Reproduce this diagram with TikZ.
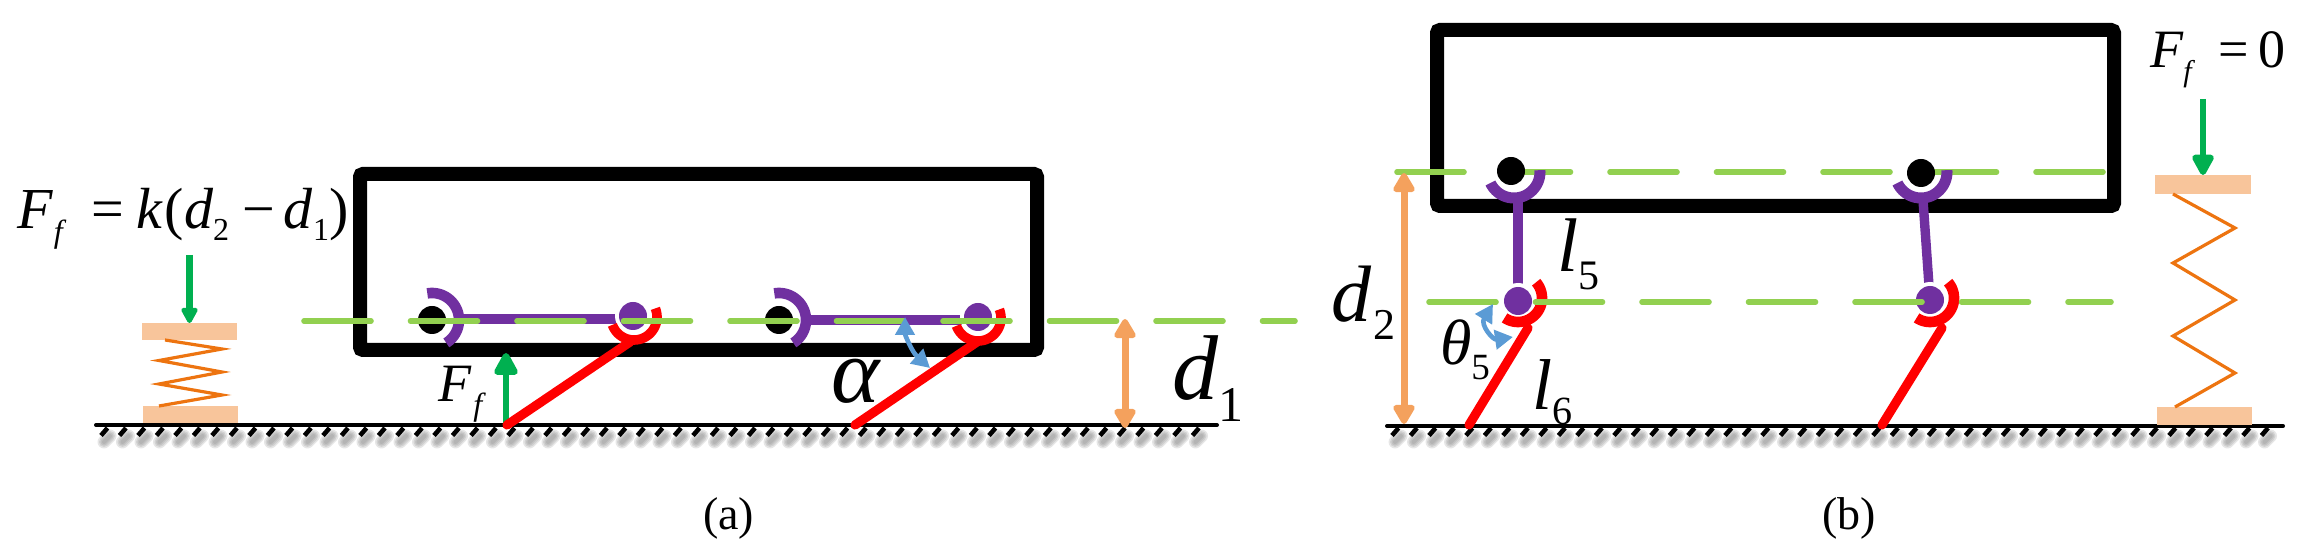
\documentclass[tikz,border=0pt]{standalone}
\usepackage{fontspec}
\setmainfont{Liberation Serif}
\usetikzlibrary{arrows.meta}
\definecolor{cgreen}{HTML}{00B050}
\definecolor{cdash}{HTML}{92D050}
\definecolor{cpurple}{HTML}{7030A0}
\definecolor{cred}{HTML}{FF0000}
\definecolor{cplate}{HTML}{F8C59B}
\definecolor{cspring}{HTML}{ED7410}
\definecolor{corange}{HTML}{F4A15D}
\definecolor{cblue}{HTML}{5B9BD5}
\newcommand\fs[1]{\fontsize{#1}{#1}\selectfont}
\newcommand\lowsub[3]{\raisebox{#2}{\fs{#1}#3}}
\newcommand\jarc[7]{\draw[line width=#7,color=#6,line cap=butt] plot[domain=#4:#5,samples=40,smooth] ({#1+#3*cos(\x)},{#2-#3*sin(\x)});}
\newcommand\halo[3]{\fill[white] (#1,#2) circle[radius=#3];}
\newcommand\jdot[4][black]{\fill[#1] (#2,#3) circle[radius=#4];}
\newcommand\groundline[3]{%
  \foreach \tx in {#1,#2,...,#3} {
    \foreach \w in {6.5,5,3.5,2} {
      \draw[line width=\w pt,gray,opacity=.2,line cap=round] (\tx+3,442) -- (\tx+9,436);
    }
  }
  \foreach \tx in {#1,#2,...,#3} {
    \draw[line width=2.3pt,black] (\tx,435.5) -- (\tx+6.5,428);
  }
}
\tikzset{
  x=0.5pt,y=-0.5pt,
  body/.style={draw=black,line width=7pt,rounded corners=1.5pt},
  refline/.style={draw=cdash,line width=2.8pt,line cap=round,dash pattern=on 33.5pt off 19.75pt},
  ground/.style={draw=black,line width=2pt,line cap=round},
  rodp/.style={draw=cpurple,line width=4.7pt},
  legr/.style={draw=cred,line width=4.6pt,line cap=round},
  plate/.style={fill=cplate},
  coil/.style={draw=cspring,line width=1.6pt,line join=miter},
  forcearrow/.style={draw=cgreen,line width=3.4pt,-{Triangle[width=#1,length=#1,round]}},
  forcearrow/.default=9pt,
  dimarrow/.style={draw=corange,line width=3.5pt,{Triangle[width=12pt,length=11pt,round]}-{Triangle[width=12pt,length=11pt,round]}},
  anglearrow/.style={draw=cblue,line width=2.3pt,{Triangle[width=9.5pt,length=9pt]}-{Triangle[width=9.5pt,length=9pt]}},
  lab/.style={anchor=base west,inner sep=0pt,outer sep=0pt,text=black}
}
\begin{document}
\begin{tikzpicture}
\useasboundingbox (0,0) rectangle (2304,555);
% grounds
\groundline{101}{119.5}{1195}
\groundline{1392}{1410.5}{2267}
\draw[ground] (96,425) -- (1217,425);
\draw[ground] (1387,426) -- (2283,426);
% ---------- (a)
\draw[body] (360,174) rectangle (1037,350);
\fill[plate] (142,323) rectangle (237,340);
\fill[plate] (143,406) rectangle (238,423);
\draw[coil] (165,340) -- (222,349) -- (159,360.5) -- (222,372) -- (159,384) -- (222,395) -- (159,406);
\draw[forcearrow] (189.5,255) -- (189.5,323);
\draw[forcearrow=13pt] (506,425) -- (506,353);
% left pair of legs
\halo{432}{320}{20}
\jdot{432}{320}{14}
\jarc{432}{320}{27}{-58}{100}{cpurple}{5.3pt}
\draw[rodp] (459,319) -- (633,319);
\halo{633}{316}{18}
\jdot[cpurple]{633}{316}{14}
\draw[legr] (507,425) -- (630,342);
\jarc{634}{317}{23}{200}{382}{cred}{4.8pt}
\halo{779}{320}{20}
\jdot{779}{320}{14}
\jarc{779}{320}{27}{-58}{100}{cpurple}{5.3pt}
\draw[rodp] (806,320) -- (978,320);
\halo{978}{317}{18}
\jdot[cpurple]{978}{317}{14}
\draw[legr] (855,425) -- (977,342);
\jarc{978}{318}{23}{200}{382}{cred}{4.8pt}
\draw[refline] (304,321) -- (1295,321);
% ---------- (b)
\draw[body] (1437,30) rectangle (2114,206);
\fill[plate] (2155,175) rectangle (2251,194);
\fill[plate] (2157,407) rectangle (2252,425);
\draw[coil] (2173,194) -- (2235,228) -- (2173,263) -- (2235,300) -- (2173,336) -- (2235,373) -- (2175,407);
\draw[forcearrow=12pt] (2203,99) -- (2203,175);
\halo{1511}{171}{20}
\halo{1921}{173}{20}
\draw[refline] (1397,172) -- (2103,172);
\jdot{1511}{171}{14}
\jdot{1921}{173}{14}
\jarc{1514}{172}{26}{205}{364}{cpurple}{5.5pt}
\jarc{1921}{172}{26}{205}{364}{cpurple}{5.5pt}
\draw[rodp] (1518,200) -- (1518,300);
\draw[rodp] (1923,200) -- (1930,300);
\halo{1518}{301}{18}
\halo{1930}{300}{18}
\jdot[cpurple]{1518}{301}{14}
\jdot[cpurple]{1930}{300}{14}
\draw[legr] (1469,425) -- (1528,328);
\draw[legr] (1882,425) -- (1942,328);
\jarc{1518}{298}{24}{236}{401}{cred}{5.3pt}
\jarc{1930}{298}{24}{236}{401}{cred}{5.3pt}
\draw[refline] (1429,302) -- (2111,302);
% dimension & angle arrows
\draw[dimarrow] (1125,319) -- (1125,428);
\draw[dimarrow] (1404,173) -- (1404,424);
\draw[anglearrow] (905,317) .. controls (905,335) and (912,352) .. (930,368);
\draw[anglearrow] (1493,304) .. controls (1480,325) and (1493,340) .. (1513,337);
% labels
\node[lab] (fa) at (18,229) {\fs{29}\textit{F}\lowsub{16}{-7pt}{\textit{f}}\hspace{12.5pt}=\hspace{6pt}\textit{k}\hspace{1pt}(\textit{d}\lowsub{16}{-6pt}{2}\hspace{6.5pt}−\hspace{4.5pt}\textit{d}\lowsub{16}{-6pt}{1})};
\node[lab] (fb) at (438,402) {\fs{27}\textit{F}\hspace{1pt}\lowsub{16}{-7pt}{\textit{f}}};
\node[lab] (fc) at (2150,68) {\fs{27}\textit{F}\lowsub{15}{-7pt}{\textit{f}}\hspace{11.5pt}=\hspace{4.7pt}0};
\node[lab] (alpha) at (831,403) {\fs{46}\textit{α}};
\node[lab] (d1) at (1172,400) {\fs{46}\textit{d}\lowsub{25}{-11pt}{1}};
\node[lab] (d2) at (1331,322) {\fs{40}\textit{d}\hspace{1pt}\lowsub{22}{-9pt}{2}};
\node[lab] (th) at (1440,365) {\fs{32}\textit{θ}\lowsub{18.5}{-7.5pt}{5}};
\node[lab] (l5) at (1557,272) {\fs{38}\textit{l}\lowsub{21}{-9pt}{5}};
\node[lab] (l6) at (1532,410) {\fs{36}\textit{l}\lowsub{20}{-7.5pt}{6}};
\node[lab] (capa) at (703,530) {\fs{23}(a)};
\node[lab] (capb) at (1822,530) {\fs{23}(b)};
\end{tikzpicture}
\end{document}
